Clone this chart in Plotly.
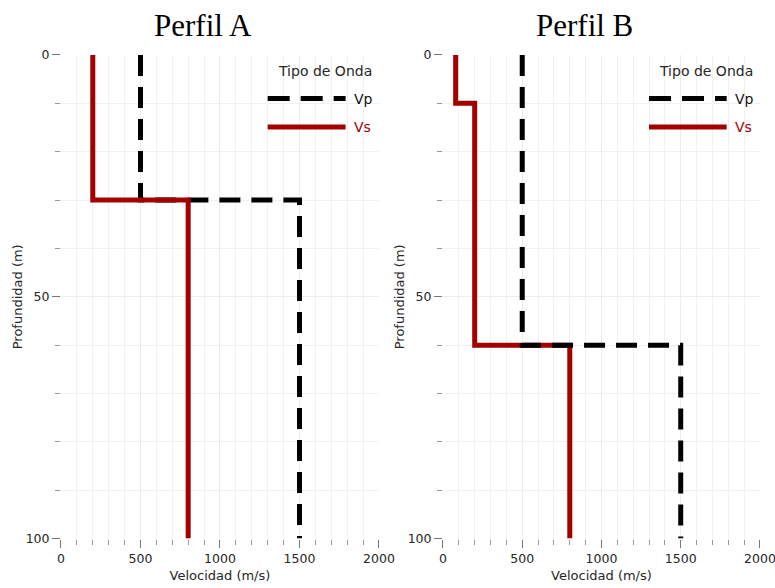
import plotly.graph_objects as go
from plotly.subplots import make_subplots

# Layer boundaries (depth, m) and velocities (m/s) for each profile
depth_vp_A = [0, 30, 100]
vp_A = [500, 1500]
depth_vs_A = [0, 30, 100]
vs_A = [200, 800]

depth_vp_B = [0, 60, 100]
vp_B = [500, 1500]
depth_vs_B = [0, 10, 60, 100]
vs_B = [80, 200, 800]

titles = ["Perfil A", "Perfil B"]
x_ticks = [0, 500, 1000, 1500, 2000]
y_ticks = [0, 50, 100]

RED = "#a30000"
BLACK = "#000000"


def steps(bounds, vals):
    xs, ys = [], []
    for i, v in enumerate(vals):
        xs += [v, v]
        ys += [bounds[i], bounds[i + 1]]
    return xs, ys


fig = make_subplots(rows=1, cols=2)

profiles = [
    (depth_vp_A, vp_A, depth_vs_A, vs_A, False),
    (depth_vp_B, vp_B, depth_vs_B, vs_B, True),
]
for col, (dvp, vp, dvs, vs, vp_on_top) in enumerate(profiles, start=1):
    xp, yp = steps(dvp, vp)
    xs, ys = steps(dvs, vs)
    tr_vp = go.Scatter(x=xp, y=yp, mode="lines", name="Vp", showlegend=False,
                       line=dict(color=BLACK, width=5, dash="21px,11px"))
    tr_vs = go.Scatter(x=xs, y=ys, mode="lines", name="Vs", showlegend=False,
                       line=dict(color=RED, width=5))
    order = [tr_vs, tr_vp] if vp_on_top else [tr_vp, tr_vs]
    for tr in order:
        fig.add_trace(tr, row=1, col=col)

x_domains = [[0.0787, 0.489], [0.5716, 0.9806]]
y_domain = [0.084, 0.9065]

axis_font = dict(family="DejaVu Sans, Verdana, sans-serif", size=13, color="#262626")
tick_font = dict(family="DejaVu Sans, Verdana, sans-serif", size=12.5, color="#262626")

for i in range(2):
    xa = "xaxis" if i == 0 else "xaxis2"
    ya = "yaxis" if i == 0 else "yaxis2"
    fig.layout[xa].update(
        domain=x_domains[i], range=[0, 2000], tickvals=x_ticks, automargin=False,
        ticklabeloverflow="allow",
        showline=False, zeroline=False, showgrid=True, gridcolor="#ececec",
        ticks="outside", ticklen=8, tickcolor="#777777", tickwidth=1,
        tickfont=tick_font,
        minor=dict(dtick=100, ticks="outside", ticklen=5, tickcolor="#999999",
                   showgrid=True, gridcolor="#f1f1f1"),
        title=dict(text="Velocidad (m/s)", font=axis_font, standoff=6),
    )
    fig.layout[ya].update(
        domain=y_domain, range=[100, 0], tickvals=y_ticks, automargin=False,
        ticklabeloverflow="allow",
        showline=False, zeroline=False, showgrid=True, gridcolor="#ececec",
        ticks="outside", ticklen=8, tickcolor="#777777", tickwidth=1,
        tickfont=tick_font,
        minor=dict(dtick=10, ticks="outside", ticklen=5, tickcolor="#999999",
                   showgrid=True, gridcolor="#f1f1f1"),
        title=dict(text="Profundidad (m)", font=axis_font, standoff=0),
    )

# Panel titles and hand-built legends
legend_font = dict(family="DejaVu Sans, Verdana, sans-serif", size=14, color="#262626")
for i in range(2):
    xr = "x domain" if i == 0 else "x2 domain"
    yr = "y domain" if i == 0 else "y2 domain"
    fig.add_annotation(text=titles[i], xref=xr, yref="paper", x=0.448, y=0.957,
                       xanchor="center", yanchor="middle", showarrow=False,
                       font=dict(family="Liberation Serif, Times New Roman, serif",
                                 size=31, color="#000000"))
    fig.add_annotation(text="Tipo de Onda", xref=xr, yref=yr, x=0.83, y=0.967,
                       xanchor="center", yanchor="middle",
                       showarrow=False, font=legend_font)
    fig.add_shape(type="line", xref=xr, yref=yr, x0=0.65, x1=0.895, y0=0.91, y1=0.91,
                  line=dict(color=BLACK, width=5, dash="22px,11px"))
    fig.add_shape(type="line", xref=xr, yref=yr, x0=0.65, x1=0.895, y0=0.851, y1=0.851,
                  line=dict(color=RED, width=5))
    fig.add_annotation(text="Vp", xref=xr, yref=yr, x=0.915, y=0.91,
                       xanchor="left", yanchor="middle",
                       showarrow=False, font=dict(legend_font, color="#111111"))
    fig.add_annotation(text="Vs", xref=xr, yref=yr, x=0.915, y=0.851,
                       xanchor="left", yanchor="middle",
                       showarrow=False, font=dict(legend_font, color=RED))

fig.update_layout(
    width=775, height=588,
    margin=dict(l=0, r=0, t=0, b=0, autoexpand=False),
    plot_bgcolor="white", paper_bgcolor="white",
    showlegend=False,
)

fig.write_html("out.html")
